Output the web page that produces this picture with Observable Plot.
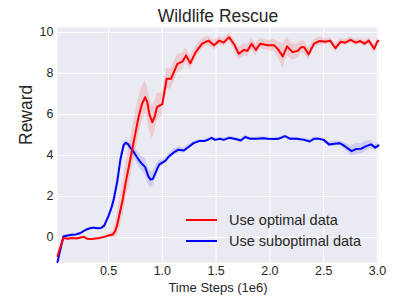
<!DOCTYPE html>
<html>
<head>
<meta charset="utf-8">
<script src="https://cdn.jsdelivr.net/npm/d3@7"></script>
<script src="https://cdn.jsdelivr.net/npm/@observablehq/plot@0.6"></script>
<style>
  html, body { margin: 0; padding: 0; background: #ffffff; }
  #wrap { position: relative; width: 407px; height: 305px; font-family: "Liberation Sans", Arial, sans-serif; }
  #legend { position: absolute; left: 186px; top: 209px; color: #262626; font-size: 14.5px; }
  .row { display: flex; align-items: center; height: 21px; }
  .swatch { width: 31px; height: 2px; margin-right: 12px; }
</style>
</head>
<body>
<div id="wrap"></div>
<script>
const titleText = "Wildlife Rescue";
const xLabel = "Time Steps (1e6)";
const yLabel = "Reward";
const seriesNames = ["Use optimal data", "Use suboptimal data"];
const seriesColors = ["#ff0000", "#0000ff"];
const xTicks = [0.5, 1.0, 1.5, 2.0, 2.5, 3.0];
const yTicks = [0, 2, 4, 6, 8, 10];

const optimalSteps = [0.025,0.08,0.12,0.16,0.2,0.24,0.27,0.3,0.34,0.38,0.42,0.46,0.5,0.54,0.56,0.58,0.6,0.63,0.66,0.69,0.72,0.75,0.78,0.81,0.84,0.86,0.88,0.906,0.93,0.95,0.98,1.0,1.04,1.08,1.11,1.14,1.19,1.22,1.26,1.31,1.37,1.43,1.48,1.53,1.57,1.62,1.67,1.71,1.76,1.79,1.83,1.87,1.91,1.98,2.04,2.08,2.12,2.16,2.21,2.26,2.29,2.32,2.36,2.41,2.46,2.52,2.56,2.61,2.66,2.70,2.75,2.80,2.84,2.88,2.92,2.97,3.0,3.01];
const optimalReward = [-0.9,-0.02,-0.06,-0.02,-0.05,0.0,0.03,-0.06,-0.08,-0.05,-0.02,0.03,0.1,0.15,0.3,0.6,1.1,1.8,2.7,3.5,4.3,5.1,5.9,6.5,6.84,6.6,6.0,5.62,5.9,6.36,6.45,6.5,7.74,7.74,8.1,8.47,8.59,8.88,8.5,9.04,9.45,9.6,9.37,9.6,9.5,9.77,9.4,8.96,9.15,9.1,9.45,9.15,9.45,9.37,9.37,9.15,8.83,9.32,9.04,9.1,9.28,9.28,8.93,9.45,9.58,9.55,9.6,9.23,9.55,9.5,9.64,9.5,9.58,9.45,9.6,9.2,9.56,9.58];
const optimalSpread = [0.05,0.05,0.05,0.05,0.05,0.05,0.05,0.05,0.05,0.05,0.05,0.05,0.08,0.15,0.3,0.5,0.7,0.8,0.9,0.95,0.95,0.95,0.9,0.85,0.8,0.8,0.8,0.8,0.75,0.65,0.6,0.55,0.5,0.5,0.5,0.45,0.4,0.35,0.35,0.3,0.25,0.22,0.22,0.2,0.2,0.2,0.25,0.3,0.3,0.3,0.3,0.3,0.25,0.25,0.3,0.4,0.6,0.45,0.4,0.35,0.3,0.3,0.3,0.2,0.2,0.15,0.15,0.2,0.15,0.15,0.15,0.15,0.15,0.15,0.15,0.2,0.15,0.15];

const suboptimalSteps = [0.025,0.08,0.12,0.16,0.2,0.24,0.27,0.3,0.33,0.36,0.4,0.43,0.46,0.5,0.53,0.55,0.58,0.61,0.64,0.66,0.68,0.7,0.73,0.76,0.8,0.84,0.87,0.89,0.91,0.94,0.97,1.0,1.03,1.06,1.11,1.15,1.2,1.25,1.29,1.34,1.39,1.43,1.46,1.49,1.54,1.57,1.62,1.68,1.73,1.77,1.82,1.88,1.94,1.98,2.04,2.08,2.14,2.19,2.25,2.32,2.37,2.41,2.46,2.5,2.55,2.6,2.65,2.7,2.76,2.8,2.85,2.89,2.94,2.98,3.01];
const suboptimalReward = [-1.2,0.05,0.1,0.13,0.15,0.22,0.32,0.4,0.45,0.48,0.45,0.46,0.58,1.05,1.5,1.9,2.7,3.8,4.5,4.62,4.55,4.4,4.2,3.95,3.65,3.43,2.98,2.82,2.85,3.2,3.55,3.65,3.75,3.95,4.16,4.28,4.24,4.44,4.6,4.7,4.7,4.78,4.86,4.76,4.81,4.76,4.86,4.8,4.73,4.9,4.81,4.81,4.84,4.81,4.8,4.81,4.94,4.81,4.81,4.76,4.68,4.81,4.81,4.76,4.54,4.57,4.6,4.44,4.21,4.31,4.33,4.44,4.54,4.38,4.49];
const suboptimalSpread = [0.05,0.05,0.05,0.05,0.05,0.05,0.05,0.05,0.05,0.05,0.05,0.05,0.08,0.15,0.2,0.25,0.25,0.2,0.15,0.12,0.15,0.2,0.25,0.3,0.35,0.4,0.4,0.4,0.35,0.3,0.2,0.15,0.12,0.15,0.15,0.15,0.12,0.12,0.1,0.08,0.08,0.08,0.08,0.08,0.08,0.08,0.08,0.08,0.08,0.08,0.08,0.08,0.08,0.08,0.08,0.08,0.08,0.08,0.08,0.08,0.08,0.08,0.08,0.08,0.1,0.12,0.12,0.15,0.25,0.28,0.25,0.25,0.2,0.15,0.15];

const build = (steps, reward, spread, name) =>
  steps.map((s, i) => ({series: name, step: s, reward: reward[i], lo: reward[i] - spread[i], hi: reward[i] + spread[i]}));
const optimal = build(optimalSteps, optimalReward, optimalSpread, seriesNames[0]);
const suboptimal = build(suboptimalSteps, suboptimalReward, suboptimalSpread, seriesNames[1]);

const chart = Plot.plot({
  width: 407,
  height: 305,
  marginLeft: 57,
  marginRight: 29,
  marginTop: 27,
  marginBottom: 43,
  style: {fontFamily: "'Liberation Sans', Arial, sans-serif", fontSize: "12.5px", color: "#262626", background: "transparent"},
  x: {domain: [0.025, 3.01]},
  y: {domain: [-1.22, 10.24]},
  marks: [
    Plot.frame({fill: "#eaeaf2", stroke: null}),
    Plot.gridX(xTicks, {stroke: "#ffffff", strokeOpacity: 1, strokeWidth: 1}),
    Plot.gridY(yTicks, {stroke: "#ffffff", strokeOpacity: 1, strokeWidth: 1}),
    Plot.areaY(optimal, {x: "step", y1: "lo", y2: "hi", fill: seriesColors[0], fillOpacity: 0.13}),
    Plot.areaY(suboptimal, {x: "step", y1: "lo", y2: "hi", fill: seriesColors[1], fillOpacity: 0.12}),
    Plot.lineY(suboptimal, {x: "step", y: "reward", stroke: seriesColors[1], strokeWidth: 2}),
    Plot.lineY(optimal, {x: "step", y: "reward", stroke: seriesColors[0], strokeWidth: 2}),
    Plot.axisX({ticks: xTicks, tickFormat: d3.format(".1f"), tickSize: 0, tickPadding: 4, label: null}),
    Plot.axisY({ticks: yTicks, tickSize: 0, tickPadding: 4, label: null}),
    Plot.text([titleText], {frameAnchor: "top", dy: -11, fontSize: 17.5, fill: "#262626", lineAnchor: "middle"}),
    Plot.text([xLabel], {frameAnchor: "bottom", dy: 25, fontSize: 13, fill: "#262626", lineAnchor: "middle"}),
    Plot.text([yLabel], {frameAnchor: "left", dx: -31, rotate: -90, fontSize: 17.5, fill: "#262626", lineAnchor: "middle"})
  ]
});

const wrap = document.getElementById("wrap");
wrap.appendChild(chart);
const legend = document.createElement("div");
legend.id = "legend";
seriesNames.forEach((name, i) => {
  const row = document.createElement("div");
  row.className = "row";
  const sw = document.createElement("div");
  sw.className = "swatch";
  sw.style.background = seriesColors[i];
  const label = document.createElement("span");
  label.textContent = name;
  row.appendChild(sw);
  row.appendChild(label);
  legend.appendChild(row);
});
wrap.appendChild(legend);
</script>
</body>
</html>
